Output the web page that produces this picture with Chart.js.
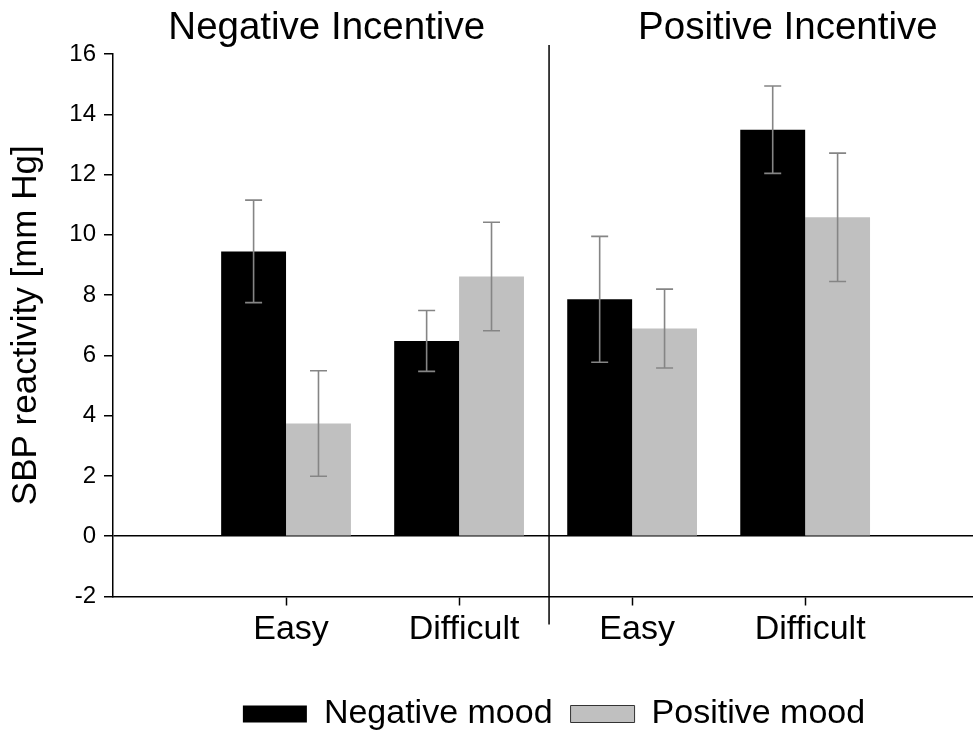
<!DOCTYPE html>
<html lang="en">
<head>
<meta charset="UTF-8">
<title>SBP reactivity</title>
<script src="https://cdn.jsdelivr.net/npm/chart.js"></script>
<style>
    html, body {
        margin: 0;
        padding: 0;
        background: #fff;
        overflow: hidden;
    }
    .chart-container {
        position: relative;
        width: 973px;
        height: 731px;
    }
</style>
</head>
<body>
<div class="chart-container">
    <canvas id="sbp-chart"></canvas>
</div>
<script>
    // Data
    const categories = ['Easy', 'Difficult', 'Easy', 'Difficult'];
    const panelTitles = ['Negative Incentive', 'Positive Incentive'];
    const seriesNames = ['Negative mood', 'Positive mood'];
    const negativeMood = [9.45, 6.48, 7.86, 13.49];
    const negativeMoodErr = [1.70, 1.01, 2.09, 1.45];
    const positiveMood = [3.74, 8.62, 6.89, 10.58];
    const positiveMoodErr = [1.75, 1.80, 1.31, 2.13];
    const yTicks = [-2, 0, 2, 4, 6, 8, 10, 12, 14, 16];

    const fontFamily = '"Liberation Sans", Arial, Helvetica, sans-serif';
    Chart.defaults.font.family = fontFamily;
    Chart.defaults.color = '#000';

    // category i sits at x = i + 1 on the linear axis
    const toPoints = values => values.map((v, i) => ({ x: i + 1, y: v }));

    const errorBars = {
        id: 'errorBars',
        afterDatasetsDraw(chart) {
            const ctx = chart.ctx;
            const yScale = chart.scales.y;
            chart.data.datasets.forEach((ds, di) => {
                const meta = chart.getDatasetMeta(di);
                meta.data.forEach((bar, i) => {
                    const v = ds.data[i].y;
                    const e = ds.errors[i];
                    const top = yScale.getPixelForValue(v + e);
                    const bottom = yScale.getPixelForValue(v - e);
                    ctx.save();
                    ctx.strokeStyle = '#858585';
                    ctx.lineWidth = 1.6;
                    ctx.beginPath();
                    ctx.moveTo(bar.x, top);
                    ctx.lineTo(bar.x, bottom);
                    ctx.moveTo(bar.x - 8.5, top);
                    ctx.lineTo(bar.x + 8.5, top);
                    ctx.moveTo(bar.x - 8.5, bottom);
                    ctx.lineTo(bar.x + 8.5, bottom);
                    ctx.stroke();
                    ctx.restore();
                });
            });
        }
    };

    const panels = {
        id: 'panels',
        afterLayout(chart) {
            // legend sits a little right of the plot centre in the original
            if (chart.legend) {
                chart.legend.left += 11;
                chart.legend.right += 11;
            }
        },
        afterDraw(chart) {
            const { ctx, chartArea } = chart;
            const xScale = chart.scales.x;
            const xd = xScale.getPixelForValue(2.52);
            ctx.save();
            ctx.strokeStyle = '#000';
            ctx.lineWidth = 1.5;
            ctx.beginPath();
            ctx.moveTo(xd, chartArea.top - 9);
            ctx.lineTo(xd, chartArea.bottom + 28);
            ctx.stroke();

            ctx.fillStyle = '#000';
            ctx.font = '38.5px ' + fontFamily;
            ctx.textAlign = 'center';
            ctx.textBaseline = 'alphabetic';
            ctx.fillText(panelTitles[0], xScale.getPixelForValue(1.235), 39);
            ctx.fillText(panelTitles[1], xScale.getPixelForValue(3.9), 39);
            ctx.restore();
        }
    };

    new Chart(document.getElementById('sbp-chart'), {
        type: 'bar',
        data: {
            datasets: [
                {
                    label: seriesNames[0],
                    data: toPoints(negativeMood),
                    errors: negativeMoodErr,
                    backgroundColor: '#000000',
                    borderWidth: 0
                },
                {
                    label: seriesNames[1],
                    data: toPoints(positiveMood),
                    errors: positiveMoodErr,
                    backgroundColor: '#c0c0c0',
                    borderWidth: 0
                }
            ]
        },
        options: {
            responsive: true,
            maintainAspectRatio: false,
            animation: false,
            layout: {
                padding: { top: 54, right: 0, bottom: -10, left: 0 }
            },
            datasets: {
                bar: { barPercentage: 1, categoryPercentage: 0.75 }
            },
            plugins: {
                tooltip: { enabled: false },
                legend: {
                    position: 'bottom',
                    fullSize: false,
                    labels: {
                        font: { size: 34 },
                        color: '#000',
                        boxWidth: 64,
                        boxHeight: 17,
                        padding: 18,
                        generateLabels(chart) {
                            const items = Chart.defaults.plugins.legend.labels.generateLabels(chart);
                            return items.map((item, i) => {
                                item.lineWidth = i === 1 ? 1 : 0;
                                item.strokeStyle = '#333333';
                                return item;
                            });
                        }
                    }
                }
            },
            scales: {
                x: {
                    type: 'linear',
                    min: 0,
                    max: 4.97,
                    offset: false,
                    afterBuildTicks: scale => {
                        scale.ticks = categories.map((c, i) => ({ value: i + 1 }));
                    },
                    afterFit: scale => { scale.height = 82.5; },
                    grid: {
                        drawOnChartArea: false,
                        offset: false,
                        tickLength: 9,
                        tickColor: '#000',
                        tickWidth: 1.5
                    },
                    border: { color: '#000', width: 1.5 },
                    ticks: {
                        autoSkip: false,
                        maxRotation: 0,
                        padding: 4,
                        labelOffset: 5,
                        font: { size: 34 },
                        color: '#000',
                        callback: value => categories[value - 1]
                    }
                },
                y: {
                    min: -2,
                    max: 16,
                    afterBuildTicks: scale => {
                        scale.ticks = yTicks.map(v => ({ value: v }));
                    },
                    afterFit: scale => { scale.width = 113; },
                    grid: {
                        color: c => (c.tick && c.tick.value === 0) ? '#000' : 'rgba(0,0,0,0)',
                        lineWidth: 1.5,
                        tickLength: 9,
                        tickColor: '#000',
                        tickWidth: 1.5
                    },
                    border: { color: '#000', width: 1.5 },
                    ticks: {
                        font: { size: 24 },
                        color: '#000',
                        padding: 8
                    },
                    title: {
                        display: true,
                        text: 'SBP reactivity [mm Hg]',
                        font: { size: 35 },
                        color: '#000',
                        padding: { top: 5, bottom: 0 }
                    }
                }
            }
        },
        plugins: [errorBars, panels]
    });
</script>
</body>
</html>
